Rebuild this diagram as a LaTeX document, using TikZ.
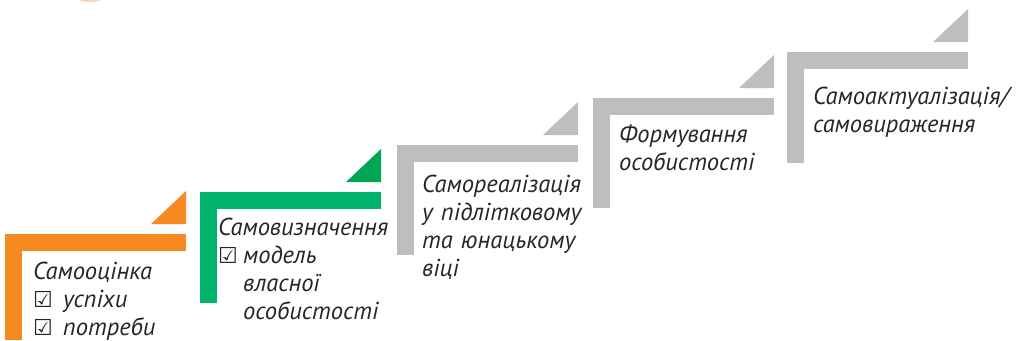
\documentclass[tikz,border=0pt]{standalone}
\usepackage{fontspec}
\setmainfont{PT Sans}
\newfontfamily\symfont{DejaVu Sans}
\usepackage{tikz}
\usetikzlibrary{positioning}
\definecolor{stepor}{RGB}{246,137,31}
\definecolor{stepgr}{RGB}{0,178,107}
\definecolor{stepgrd}{RGB}{0,166,81}
\definecolor{stepgy}{RGB}{188,190,192}
\newcommand\chk[1]{\makebox[#1][l]{\upshape\bfseries\symfont\fontsize{22}{28}\selectfont ☑}}
\tikzset{
  steptext/.style={anchor=base west,inner sep=0pt,text width=210pt,align=left,
    font=\fontsize{24.5}{28}\selectfont\itshape,text=black!85}
}

\begin{document}
\begin{tikzpicture}[x=1pt,y=-1pt]
\useasboundingbox (0,0) rectangle (1016,340);
% faint remnant at the top
\fill[stepor!35] (90,-0.5) ellipse (11 and 2.5);
% the steps: bars and corner triangles
\foreach \xa/\ya/\yb/\col/\tcol in {5/234/340/stepor/stepor, 200/192/303/stepgr/stepgrd,
  397/145/255/stepgy/stepgy, 593/98/208/stepgy/stepgy, 787/52/163/stepgy/stepgy}{
  \fill[\col] (\xa,\ya) rectangle (\xa+181,\ya+17);
  \fill[\col] (\xa,\ya) rectangle (\xa+17,\yb);
  \fill[\tcol] (\xa+181,\ya-43) -- (\xa+181,\ya-10) -- (\xa+146,\ya-10) -- cycle;
}
\node[steptext] (selfest) at (33,279) {Самооцінка\\ \chk{30pt}успіхи\\ \chk{30pt}потреби};
\node[steptext] (selfdet) at (218,235) {Самовизначення\\ \chk{25pt}модель\\ \hspace*{25pt}власної\\ \hspace*{25pt}особистості};
\node[steptext] (selfreal) at (422,192) {Самореалізація\\ у підлітковому\\ та юнацькому\\ віці};
\node[steptext] (persform) at (619,142) {Формування\\ особистості};
\node[steptext] (selfact) at (813,104) {Самоактуалізація/\\ самовираження};
\end{tikzpicture}
\end{document}
